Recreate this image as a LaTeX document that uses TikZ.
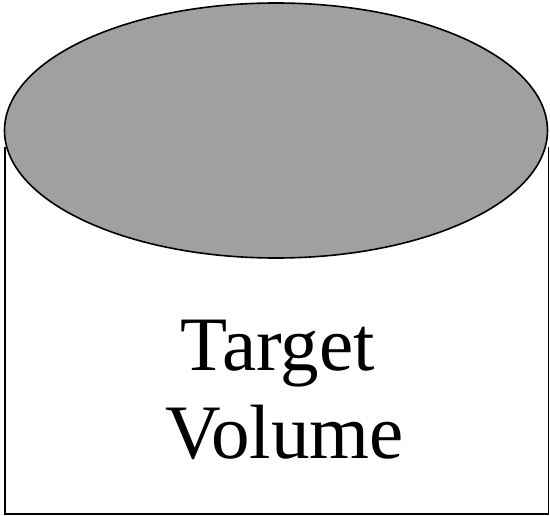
\documentclass[tikz,border=0pt]{standalone}
\usepackage{fontspec}
\setmainfont{Liberation Serif}
\usetikzlibrary{shapes.geometric}
\definecolor{capgray}{RGB}{160,160,160}
\begin{document}
\begin{tikzpicture}[x=1pt,y=-1pt,
  outline/.style={draw=black,line width=1.6pt},
  bigtext/.style={font=\fontsize{77}{88}\selectfont,inner sep=0pt,anchor=base}]
\useasboundingbox (0,0) rectangle (550,516);
\fill[white] (0,0) rectangle (550,516);
\coordinate (tl) at (5,147);
\coordinate (bl) at (5,514);
\coordinate (br) at (548.5,514);
\coordinate (tr) at (548.5,147);
\draw[outline] (tl) -- (bl) -- (br) -- (tr);
\node[outline,fill=capgray,ellipse,inner sep=0pt,minimum width=543pt,minimum height=255pt] (cap) at (276,130.5) {};
\node[bigtext] (l1) at (277.5,371) {Target};
\node[bigtext] (l2) at (284.5,459) {Volume};
\end{tikzpicture}
\end{document}
